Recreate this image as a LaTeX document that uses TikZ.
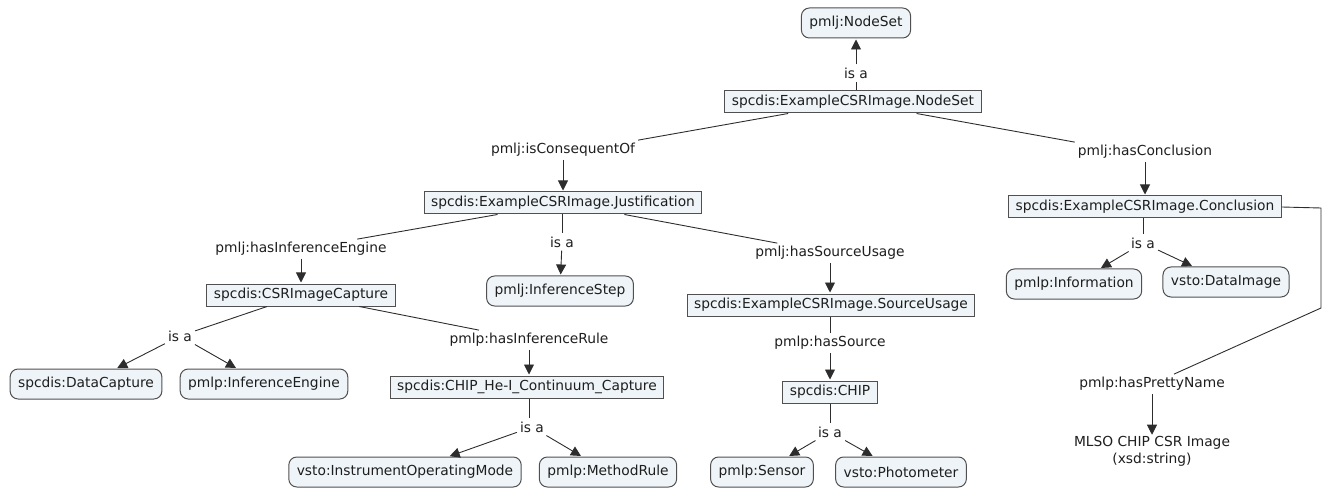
\documentclass[tikz,border=0pt]{standalone}
\usepackage{fontspec}
\setmainfont{DejaVu Sans}
\usetikzlibrary{arrows.meta}
\definecolor{boxfill}{RGB}{238,244,247}
\definecolor{boxedge}{RGB}{80,80,80}
\definecolor{linkcol}{RGB}{45,45,45}
\definecolor{txt}{RGB}{30,30,30}
\begin{document}
\begin{tikzpicture}[x=1pt,y=-1pt,
  every node/.style={font=\fontsize{13.8}{17}\selectfont, text=txt},
  concept/.style={draw=boxedge, fill=boxfill, rounded corners=8pt, line width=1pt,
    minimum height=30pt, inner xsep=8pt, inner ysep=2pt},
  instance/.style={draw=boxedge, fill=boxfill, line width=1pt,
    minimum height=22pt, inner xsep=7pt, inner ysep=1pt},
  linklabel/.style={inner sep=3pt},
  link/.style={draw=linkcol, line width=0.9pt},
  linkarrow/.style={link, -{Triangle[length=10pt,width=10pt]}, shorten >=1pt},
]
\path[use as bounding box] (0,0) rectangle (1323,489);

% classes
\node[concept] (nodeset)  at (856,23)  {pmlj:NodeSet};
\node[concept] (infstep)  at (560,291) {pmlj:InferenceStep};
\node[concept] (datacap)  at (86,384)  {spcdis:DataCapture};
\node[concept] (infeng)   at (264,384) {pmlp:InferenceEngine};
\node[concept] (iom)      at (405,472) {vsto:InstrumentOperatingMode};
\node[concept] (method)   at (608,472) {pmlp:MethodRule};
\node[concept] (sensor)   at (762,472) {pmlp:Sensor};
\node[concept] (photo)    at (901,472) {vsto:Photometer};
\node[concept] (info)     at (1074,284) {pmlp:Information};
\node[concept] (dimg)     at (1226,282) {vsto:DataImage};

% instances
\node[instance] (ens)     at (853,102) {spcdis:ExampleCSRImage.NodeSet};
\node[instance] (just)    at (563,203) {spcdis:ExampleCSRImage.Justification};
\node[instance] (capt)    at (301,295) {spcdis:CSRImageCapture};
\node[instance] (chipcap) at (527,387) {spcdis:CHIP\_He-I\_Continuum\_Capture};
\node[instance] (su)      at (831,305) {spcdis:ExampleCSRImage.SourceUsage};
\node[instance] (chip)    at (830,392) {spcdis:CHIP};
\node[instance] (conc)    at (1145,207) {spcdis:ExampleCSRImage.Conclusion};

% literal value
\node[align=center, inner sep=0pt] (lit) at (1152,451) {MLSO CHIP CSR Image\\(xsd:string)};

% link labels
\node[linklabel] (isa1)  at (856,73)  {is a};
\node[linklabel] (lCons) at (563,150) {pmlj:isConsequentOf};
\node[linklabel] (lConc) at (1145,152) {pmlj:hasConclusion};
\node[linklabel] (isa2)  at (562,242) {is a};
\node[linklabel] (lEng)  at (301,249) {pmlj:hasInferenceEngine};
\node[linklabel] (lSU)   at (830,253) {pmlj:hasSourceUsage};
\node[linklabel] (isa3)  at (180,336) {is a};
\node[linklabel] (lRule) at (529,340) {pmlp:hasInferenceRule};
\node[linklabel] (isa4)  at (532,427) {is a};
\node[linklabel] (lSrc)  at (830,343) {pmlp:hasSource};
\node[linklabel] (isa5)  at (830,432) {is a};
\node[linklabel] (isa6)  at (1143,243) {is a};
\node[linklabel] (lPretty) at (1152,384) {pmlp:hasPrettyName};

% bend points of the pretty-name link
\coordinate (c1) at (1321,208);
\coordinate (c2) at (1321,308);

% NodeSet
\draw[link] (ens.north -| isa1) -- (isa1);
\draw[linkarrow] (isa1) -- (nodeset);
\draw[link] (ens) -- (lCons.north east);
\draw[linkarrow] (lCons) -- (just);
\draw[link] (ens) -- (lConc.north west);
\draw[linkarrow] (lConc) -- (conc);

% Justification
\draw[link] (just.south -| isa2) -- (isa2);
\draw[linkarrow] (isa2) -- (infstep);
\draw[link] (just) -- (lEng);
\draw[linkarrow] (lEng) -- (capt);
\draw[link] (just) -- (lSU);
\draw[linkarrow] (lSU) -- (lSU |- su.north);

% inference engine
\draw[link] (capt) -- (isa3);
\draw[linkarrow] (isa3) -- (datacap);
\draw[linkarrow] (isa3) -- (infeng);
\draw[link] (capt) -- (lRule);
\draw[linkarrow] (lRule) -- (lRule |- chipcap.north);
\draw[link] (chipcap.south -| isa4) ++(-3,0) -- ([xshift=-3pt]isa4.north);
\draw[linkarrow] (isa4) -- (iom);
\draw[linkarrow] (isa4) -- (method);

% source usage
\draw[link] (su.south -| lSrc) -- (lSrc);
\draw[linkarrow] (lSrc) -- (chip);
\draw[link] (chip) -- (isa5);
\draw[linkarrow] (isa5) -- (sensor);
\draw[linkarrow] (isa5) -- (photo);

% conclusion
\draw[link] (conc.south -| isa6) -- (isa6);
\draw[linkarrow] (isa6) -- (info);
\draw[linkarrow] (isa6) -- (dimg);
\draw[link] (conc.east) -- (c1) -- (c2) -- (lPretty);
\draw[linkarrow] (lPretty) -- (lit);
\end{tikzpicture}
\end{document}
